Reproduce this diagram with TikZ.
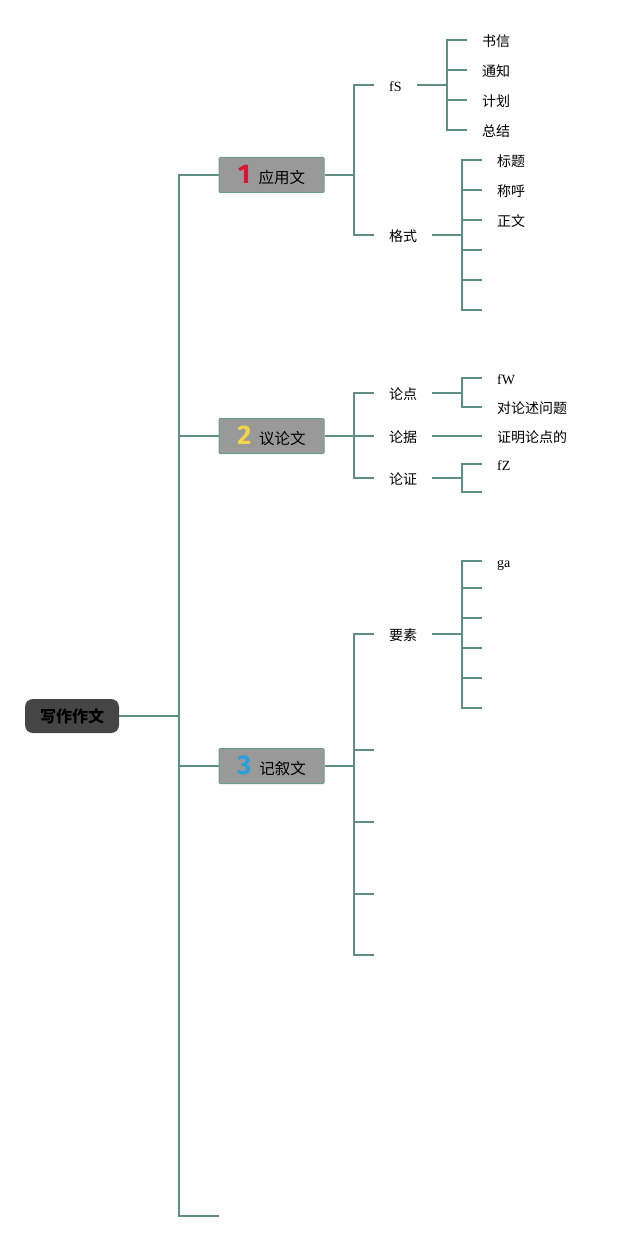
\documentclass[tikz,border=0pt]{standalone}
\usepackage{fontspec}
\setmainfont{Noto Sans CJK SC}
\newfontfamily\latinfont{Liberation Serif}
\newfontfamily\badgefont{Fira Sans}
\usetikzlibrary{positioning}

\definecolor{branch}{HTML}{5E8F84}
\definecolor{boxgray}{HTML}{999999}
\definecolor{boxedge}{HTML}{6E9C8F}
\definecolor{rootgray}{HTML}{454545}
\definecolor{numred}{HTML}{D9182D}
\definecolor{numyellow}{HTML}{F2D54A}
\definecolor{numblue}{HTML}{2A9FDD}

\newcommand{\badge}[2]{{\badgefont\bfseries\fontsize{27}{27}\selectfont\color{#1}#2}\hspace{8pt}}

\begin{document}
\begin{tikzpicture}[x=1pt,y=-1pt,
  text height=14pt,text depth=1pt,
  every edge/.style={draw=branch,line width=2pt},
  elbow/.style={to path={|- (\tikztotarget)}},
  rootstyle/.style={
    rectangle,
    rounded corners=8pt,
    fill=rootgray,
    minimum width=94pt,
    minimum height=34pt,
    text height=13.5pt,text depth=1.3pt,
    font=\bfseries\fontsize{16}{16}\selectfont,
  },
  topicstyle/.style={
    rectangle,
    rounded corners=1pt,
    fill=boxgray,
    draw=boxedge,
    line width=1pt,
    minimum width=105pt,
    minimum height=35pt,
    text height=17.5pt,text depth=1.1pt,
    font=\fontsize{15.5}{15.5}\selectfont,
  },
  midstyle/.style={anchor=west,inner xsep=15pt,font=\fontsize{14}{14}\selectfont},
  leafstyle/.style={anchor=west,inner xsep=15pt,font=\fontsize{14}{14}\selectfont}]
\useasboundingbox (0,0) rectangle (627,1241);

\node[rootstyle] (writing) at (72,716) {写作作文};
\coordinate (trunk) at (179,716);
\coordinate (tail) at (219,1216);
\node[topicstyle] (applied) at (271.5,175) {\badge{numred}{1}应用文};
\node[topicstyle] (argument) at (271.5,436) {\badge{numyellow}{2}议论文};
\node[topicstyle] (narrative) at (271.5,766) {\badge{numblue}{3}记叙文};

% 应用文
\coordinate (appliedJ) at (354,175);
\node[midstyle] (kinds) at (374,85) {\latinfont fS};
\node[midstyle] (format) at (374,235) {格式};
\coordinate (kindsJ) at (447,85);
\node[leafstyle] (letter) at (467,40) {书信};
\node[leafstyle] (notice) at (467,70) {通知};
\node[leafstyle] (plan) at (467,100) {计划};
\node[leafstyle] (summary) at (467,130) {总结};
\coordinate (formatJ) at (462,235);
\node[leafstyle] (title) at (482,160) {标题};
\node[leafstyle] (salute) at (482,190) {称呼};
\node[leafstyle] (body) at (482,220) {正文};
\coordinate (formatD) at (482,250);
\coordinate (formatE) at (482,280);
\coordinate (formatF) at (482,310);

% 议论文
\coordinate (argumentJ) at (354,436);
\node[midstyle] (thesis) at (374,393) {论点};
\node[midstyle] (evidence) at (374,436) {论据};
\node[midstyle] (proof) at (374,478) {论证};
\coordinate (thesisJ) at (462,393);
\node[leafstyle] (thesisA) at (482,378) {\latinfont fW};
\node[leafstyle] (thesisB) at (482,407) {对论述问题};
\node[leafstyle] (evidenceA) at (482,436) {证明论点的};
\coordinate (proofJ) at (462,478);
\node[leafstyle] (proofA) at (482,464) {\latinfont fZ};
\coordinate (proofB) at (482,492);

% 记叙文
\coordinate (narrativeJ) at (354,766);
\node[midstyle] (elements) at (374,634) {要素};
\coordinate (narrativeB) at (374,750);
\coordinate (narrativeC) at (374,822);
\coordinate (narrativeD) at (374,894);
\coordinate (narrativeE) at (374,955);
\coordinate (elementsJ) at (462,634);
\node[leafstyle] (elementsA) at (482,561) {\latinfont ga};
\coordinate (elementsB) at (482,588);
\coordinate (elementsC) at (482,618);
\coordinate (elementsD) at (482,648);
\coordinate (elementsE) at (482,678);
\coordinate (elementsF) at (482,708);

\path (writing) edge (trunk)
  (trunk) edge[elbow] (applied)
  (trunk) edge[elbow] (argument)
  (trunk) edge[elbow] (narrative)
  (trunk) edge[elbow] (tail);
\path (applied) edge (appliedJ)
  (appliedJ) edge[elbow] (kinds)
  (appliedJ) edge[elbow] (format)
  (kinds) edge (kindsJ)
  (kindsJ) edge[elbow] (letter)
  (kindsJ) edge[elbow] (notice)
  (kindsJ) edge[elbow] (plan)
  (kindsJ) edge[elbow] (summary)
  (format) edge (formatJ)
  (formatJ) edge[elbow] (title)
  (formatJ) edge[elbow] (salute)
  (formatJ) edge[elbow] (body)
  (formatJ) edge[elbow] (formatD)
  (formatJ) edge[elbow] (formatE)
  (formatJ) edge[elbow] (formatF);
\path (argument) edge (argumentJ)
  (argumentJ) edge[elbow] (thesis)
  (argumentJ) edge[elbow] (evidence)
  (argumentJ) edge[elbow] (proof)
  (thesis) edge (thesisJ)
  (thesisJ) edge[elbow] (thesisA)
  (thesisJ) edge[elbow] (thesisB)
  (evidence) edge (evidenceA)
  (proof) edge (proofJ)
  (proofJ) edge[elbow] (proofA)
  (proofJ) edge[elbow] (proofB);
\path (narrative) edge (narrativeJ)
  (narrativeJ) edge[elbow] (elements)
  (narrativeJ) edge[elbow] (narrativeB)
  (narrativeJ) edge[elbow] (narrativeC)
  (narrativeJ) edge[elbow] (narrativeD)
  (narrativeJ) edge[elbow] (narrativeE)
  (elements) edge (elementsJ)
  (elementsJ) edge[elbow] (elementsA)
  (elementsJ) edge[elbow] (elementsB)
  (elementsJ) edge[elbow] (elementsC)
  (elementsJ) edge[elbow] (elementsD)
  (elementsJ) edge[elbow] (elementsE)
  (elementsJ) edge[elbow] (elementsF);
\end{tikzpicture}
\end{document}
